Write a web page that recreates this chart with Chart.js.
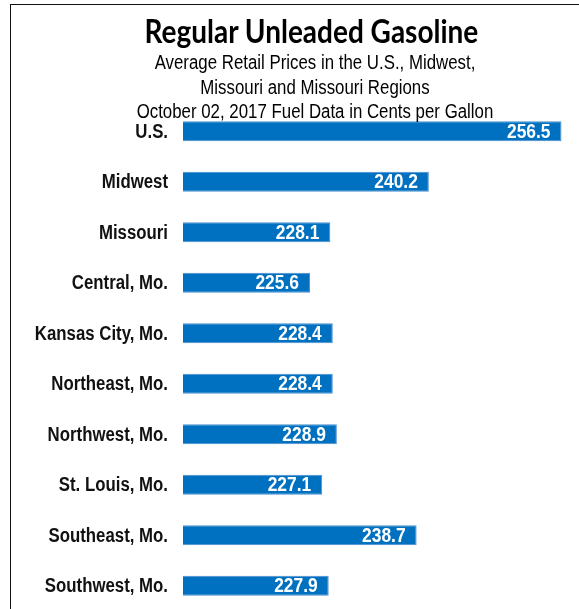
<!DOCTYPE html>
<html>
<head>
<meta charset="utf-8">
<script src="https://cdn.jsdelivr.net/npm/chart.js@4.4.1/dist/chart.umd.min.js"></script>
<style>
  html, body { margin: 0; padding: 0; background: #fff; overflow: hidden; }
  body { width: 579px; height: 609px; position: relative; }
  #frame { position: absolute; left: 10px; top: 4px; width: 700px; height: 700px;
           border-left: 1.5px solid #111; border-top: 1.5px solid #111; }
  #gasChart { position: absolute; left: 0; top: 0; }
  .t { position: absolute; left: 0; width: 630px; text-align: center; color: #000; white-space: nowrap; }
  #title { top: 11px; font: bold 32px Lato, sans-serif; transform: scaleX(0.875); transform-origin: 314px 0; width: 622px; }
  .sub { font: 20px "Liberation Sans", Arial, sans-serif; transform: scaleX(0.842); transform-origin: 315px 0; }
</style>
</head>
<body>
<canvas id="gasChart" width="590" height="615"></canvas>
<div id="frame"></div>
<div class="t" id="title">Regular Unleaded Gasoline</div>
<div class="t sub" style="top:51px">Average Retail Prices in the U.S., Midwest,</div>
<div class="t sub" style="top:76px">Missouri and Missouri Regions</div>
<div class="t sub" style="top:100px">October 02, 2017 Fuel Data in Cents per Gallon</div>
<script>
// ================================
// DATA
// ================================
const regions = [
  "U.S.", "Midwest", "Missouri", "Central, Mo.", "Kansas City, Mo.",
  "Northeast, Mo.", "Northwest, Mo.", "St. Louis, Mo.", "Southeast, Mo.", "Southwest, Mo."
];
const pricesCents = [256.5, 240.2, 228.1, 225.6, 228.4, 228.4, 228.9, 227.1, 238.7, 227.9];

// narrow text helper (no Arial Narrow installed, so squeeze Liberation Sans)
function narrowText(ctx, text, x, y, sx) {
  ctx.save();
  ctx.translate(x, y);
  ctx.scale(sx, 1);
  ctx.fillText(text, 0, 0);
  ctx.restore();
}

// ================================
// CATEGORY LABELS + VALUE LABELS
// ================================
const narrowLabels = {
  id: "narrowLabels",
  afterDatasetsDraw(chart) {
    const ctx = chart.ctx;
    const yScale = chart.scales.y;
    const meta = chart.getDatasetMeta(0);
    ctx.save();
    ctx.textAlign = "right";
    ctx.textBaseline = "middle";

    // region names on the left
    ctx.fillStyle = "#111";
    ctx.font = "bold 20px 'Liberation Sans', Arial, sans-serif";
    regions.forEach((name, i) => {
      narrowText(ctx, name, yScale.right - 15, yScale.getPixelForTick(i) + 1, 0.84);
    });

    // values inside the bar ends
    ctx.fillStyle = "#fff";
    meta.data.forEach((bar, i) => {
      narrowText(ctx, pricesCents[i].toFixed(1), bar.x - 11, bar.y + 1, 0.87);
    });
    ctx.restore();
  }
};

new Chart(document.getElementById("gasChart"), {
  type: "bar",
  data: {
    labels: regions,
    datasets: [{
      data: pricesCents,
      backgroundColor: "#0070C0",
      borderColor: "#4a8fd0",
      borderWidth: 1,
      barPercentage: 0.8,
      categoryPercentage: 0.5
    }]
  },
  options: {
    indexAxis: "y",
    responsive: false,
    animation: false,
    layout: { padding: { top: 106, bottom: 4, left: 0, right: 0 } },
    plugins: { legend: { display: false }, tooltip: { enabled: false } },
    scales: {
      x: { display: false, min: 210, max: 260 },
      y: {
        grid: { display: false },
        border: { display: false },
        ticks: { display: false },
        afterFit(scale) { scale.width = 183; }
      }
    }
  },
  plugins: [narrowLabels]
});
</script>
</body>
</html>
